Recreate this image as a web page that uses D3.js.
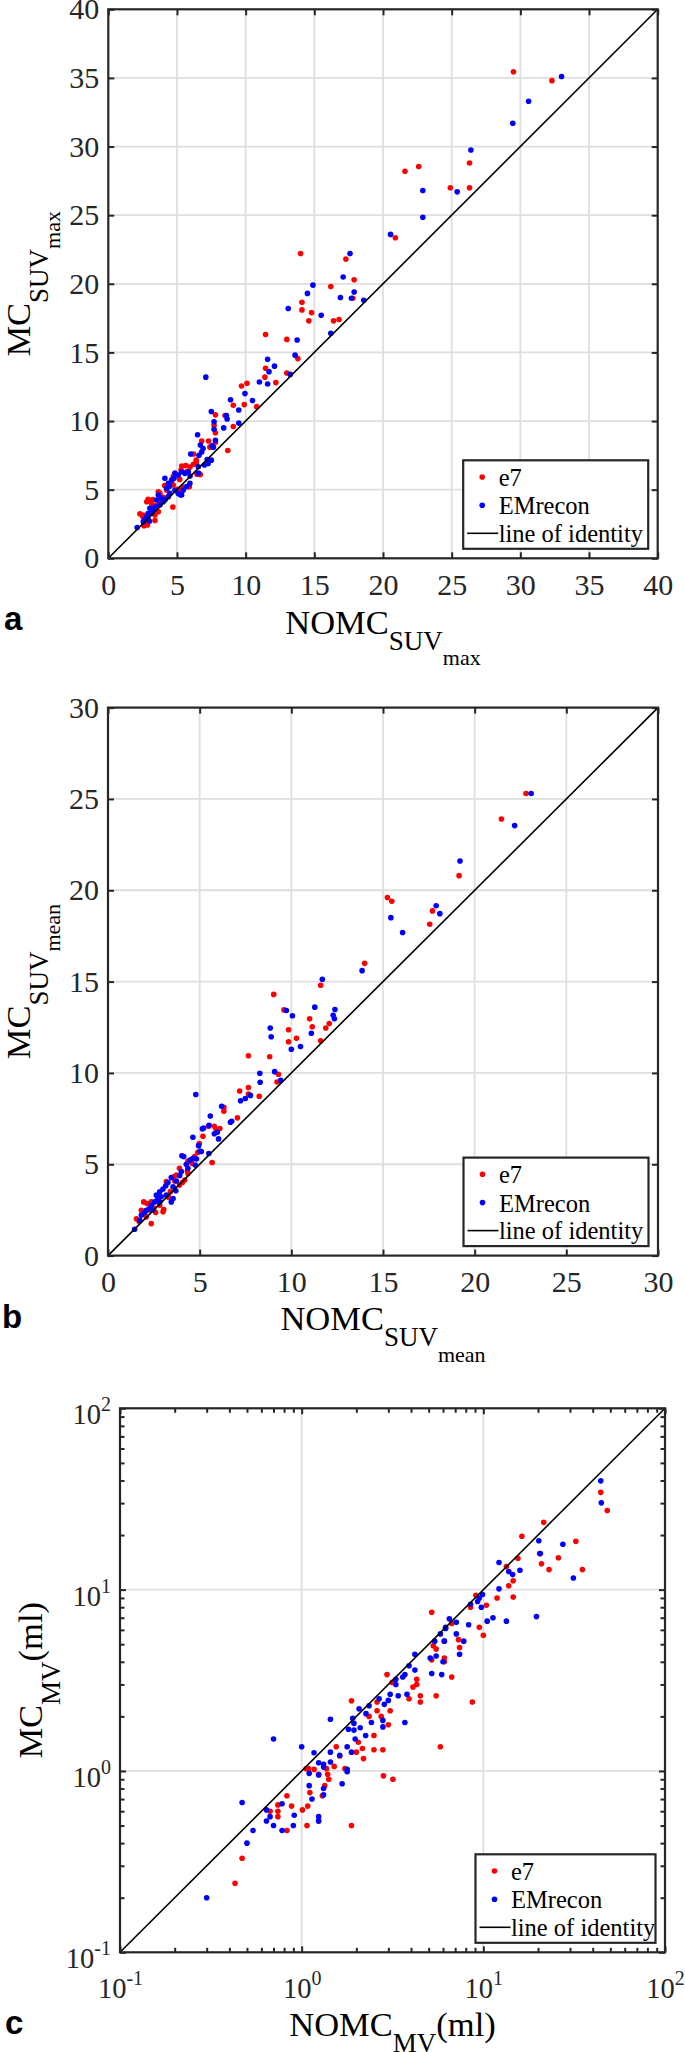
<!DOCTYPE html>
<html>
<head>
<meta charset="utf-8">
<script src="https://cdn.jsdelivr.net/npm/d3@7"></script>
<style>
  body { margin: 0; background: #fff; }
</style>
</head>
<body>
<div id="chart"></div>
<script>
// ---- data: [NOMC, MC] pairs ----
const suvMaxE7 = [
  [29.5,35.45],[32.3,34.8],[21.6,28.2],[22.6,28.55],[26.3,28.8],[24.9,27.0],[26.3,27.0],[20.9,23.35],
  [14.0,22.2],[17.3,21.8],[16.2,19.8],[17.9,20.3],[17.8,18.95],[14.1,18.65],[14.1,18.1],[14.8,17.9],
  [14.6,17.3],[16.4,17.3],[16.8,17.4],[11.45,16.3],[13.0,15.95],[13.8,14.55],[11.45,13.85],[11.4,13.2],
  [13.0,13.5],[12.2,12.8],[9.7,12.55],[10.1,12.75],[9.1,11.15],[9.9,11.2],[10.8,11.05],[8.5,10.4],
  [7.8,10.45],[9.1,9.6],[7.7,9.7],[7.8,9.15],[7.3,8.55],[7.8,8.45],[6.8,8.55],[8.7,7.85],[6.7,6.1],
  [6.4,6.95],[7.4,8.1],[6.2,7.6],[6.4,7.15],
  [5.35,6.72],[5.65,6.75],[5.95,6.65],[6.2,6.85],[5.3,6.43],[5.7,6.3],[6.45,6.12],[6.6,6.2],[4.85,6.19],
  [4.73,5.95],[5.2,5.75],[5.4,5.2],[4.6,5.58],[4.73,5.34],[5.9,5.22],[5.3,4.97],[5.1,5.05],[4.1,5.3],
  [4.25,4.97],[3.64,4.85],[3.76,4.73],[4.0,4.45],[3.76,4.25],[2.9,4.3],[3.1,4.12],[3.25,4.28],[2.8,4.12],
  [3.16,3.96],[3.52,3.88],[3.71,4.0],[4.7,3.73],[2.3,3.25],[2.5,3.05],[2.55,3.16],[3.4,3.15],[3.64,3.4],
  [3.4,2.75],[2.7,2.55],[2.85,2.43],[2.6,2.38],[2.8,2.5]
];
const suvMaxEMrecon = [
  [33.0,35.1],[30.6,33.3],[29.45,31.7],[26.4,29.75],[22.9,26.8],[22.9,24.85],[25.4,26.7],[20.55,23.6],
  [17.6,22.2],[17.1,20.5],[14.9,19.9],[14.5,19.3],[17.9,19.4],[16.9,19.0],[18.6,18.8],[17.7,18.95],
  [13.1,18.2],[15.5,17.7],[16.2,16.4],[13.75,15.9],[13.6,14.8],[11.6,14.5],[12.1,14.0],[11.7,13.6],
  [11.6,12.7],[13.25,13.4],[11.0,12.85],[7.1,13.2],[9.95,12.0],[10.5,11.5],[8.9,11.55],[9.5,10.8],
  [7.5,10.7],[8.6,10.4],[8.65,10.15],[9.5,9.85],[7.7,9.95],[8.4,9.5],[7.7,9.4],[6.5,9.0],[7.8,8.6],
  [7.65,8.1],[6.9,8.0],[6.8,7.75],[6.6,7.5],[7.5,7.15],[6.0,7.6],[7.2,7.2],[6.7,8.25],[7.55,8.2],
  [7.27,6.91],[7.0,6.8],[6.55,6.67],[6.55,6.19],[5.82,6.31],[5.58,6.19],[5.34,6.31],[5.09,6.07],
  [4.85,6.19],[5.94,5.46],[5.7,5.22],[5.34,4.61],[4.78,5.83],[4.61,5.7],[4.37,5.46],[4.12,5.83],
  [4.25,5.1],[4.85,4.97],[5.09,4.73],[4.49,4.73],[4.37,4.49],[4.12,4.25],[3.88,4.37],[4.0,4.12],
  [3.76,3.88],[3.52,4.25],[3.64,4.61],[3.4,3.76],[3.28,3.52],[3.15,3.28],[3.03,3.64],[2.91,3.28],
  [2.79,3.03],[2.67,2.84],[2.55,2.67],[2.1,2.24],[2.9,2.85],[5.26,4.61],[5.46,4.97],[4.45,5.25],
  [5.95,6.0],[3.0,2.7]
];
const suvMeanE7 = [
  [22.8,25.3],[21.46,23.9],[19.15,20.8],[15.24,19.6],[15.48,19.4],[17.7,18.87],[17.55,18.14],[14.0,16.0],
  [11.6,14.8],[9.04,14.3],[9.6,13.45],[11.0,12.96],[9.85,12.36],[11.14,12.53],[12.07,12.7],[11.88,12.46],
  [10.28,11.9],[9.85,11.71],[11.6,11.76],[7.66,10.94],[8.82,10.89],[9.3,9.93],[9.22,9.5],[7.18,9.01],
  [7.66,9.2],[7.66,8.84],[8.25,8.72],[6.32,8.12],[6.32,7.9],[7.06,7.54],[5.49,7.08],[5.8,7.08],[6.1,6.96],
  [5.18,6.53],[4.98,6.14],[5.68,5.1],[5.9,6.9],
  [4.9,5.66],[4.73,5.42],[4.36,5.18],[4.58,5.05],[4.33,4.63],[4.36,4.5],[3.9,4.78],[3.73,4.41],[3.58,4.32],
  [3.64,4.08],[4.18,4.14],[4.05,4.0],[3.18,4.05],[3.9,3.86],[1.95,2.94],[2.13,2.85],[2.36,2.94],[2.82,2.76],
  [3.0,2.4],[1.82,2.48],[1.87,2.3],[2.09,2.12],[2.6,2.36],[1.55,2.02],[1.69,1.88],[3.04,2.52],[2.36,1.75],
  [3.4,3.5],[2.7,3.1],[2.5,2.6],[3.3,3.2],[2.2,2.5]
];
const suvMeanEMrecon = [
  [23.08,25.3],[22.18,23.54],[19.2,21.6],[17.9,19.15],[18.1,18.72],[15.43,18.5],[16.07,17.69],[13.86,15.6],
  [11.69,15.13],[11.28,13.6],[12.38,13.47],[12.28,13.16],[12.35,12.96],[9.73,13.42],[10.06,13.13],
  [8.85,12.46],[8.9,11.98],[11.09,12.17],[10.0,11.3],[10.5,11.45],[9.09,10.07],[9.42,9.59],[8.28,9.98],
  [8.3,9.49],[4.79,8.82],[7.77,8.77],[7.49,8.6],[7.23,8.48],[6.2,8.17],[5.58,7.64],[6.68,7.3],[5.15,6.94],
  [5.8,6.67],[6.03,6.39],[5.96,6.75],[4.63,6.48],[4.94,6.02],[5.03,5.71],[5.5,5.59],[4.03,5.47],
  [6.75,7.35],[5.22,6.98],[5.51,7.13],
  [5.09,5.7],[4.13,5.42],[4.27,5.0],[4.49,5.24],[4.64,5.33],[4.82,5.29],[4.76,4.96],[4.36,4.78],[4.0,4.6],
  [3.91,4.38],[3.45,4.27],[3.73,4.08],[3.27,4.0],[3.15,3.82],[3.0,3.64],[3.55,3.77],[2.82,3.49],[2.64,3.31],
  [2.9,3.22],[2.73,3.03],[2.55,2.94],[3.18,3.31],[2.36,2.76],[2.27,2.58],[2.09,2.48],[2.82,2.94],[2.0,2.36],
  [1.82,2.21],[1.73,1.93],[1.45,1.44],[3.55,3.13],[3.45,2.94],[3.7,3.55],[2.45,2.5]
];
const mvE7 = [
  [44.3,34.4],[48.1,27.3],[21.5,23.5],[16.3,19.7],[32.3,18.5],[20.4,15.8],[20.9,13.9],[23.0,12.9],
  [25.9,15.0],[35.1,12.9],[15.5,14.9],[13.4,13.4],[14.6,11.2],[13.8,10.5],[14.6,9.1],[11.9,9.0],[9.1,9.3],
  [10.4,8.2],[8.5,8.0],[5.2,7.5],[9.5,6.2],[10.0,5.6],[6.7,6.5],[7.3,5.3],[7.4,4.8],[6.1,5.2],[5.3,4.9],
  [5.5,4.7],[6.1,4.2],[6.1,4.0],[6.7,3.3],[5.2,4.1],[4.3,3.2],[4.3,3.0],[4.1,2.9],[4.5,2.6],[4.5,2.4],
  [3.9,2.5],[5.5,2.6],[8.7,2.4],[5.8,1.36],[2.95,3.4],[3.15,3.08],[3.07,2.15],[3.0,1.8],[2.6,2.4],
  [2.6,2.15],[2.74,2.0],[2.35,2.0],[2.5,1.57],[2.16,1.33],[2.5,1.31],[2.8,1.31],[2.05,1.44],[2.0,1.27],
  [2.19,1.17],[1.88,2.44],[2.82,0.94],[3.18,0.9],[1.55,1.36],[1.62,1.21],[1.73,1.03],[1.51,1.06],
  [1.37,1.03],[1.17,1.02],[1.09,1.03],[1.24,0.96],[1.39,0.96],[1.41,0.9],[1.34,0.83],[1.3,0.73],
  [1.11,0.76],[1.06,1.03],[1.24,0.53],[1.08,0.64],[1.07,0.5],[1.01,0.61],[1.88,0.5],[0.83,0.73],
  [0.88,0.64],[0.83,0.47],[0.74,0.65],[0.74,0.6],[0.74,0.56],[0.67,0.6],[0.47,0.33],[0.43,0.24]
];
const mvEMrecon = [
  [44.3,39.8],[44.6,30.1],[20.2,18.6],[27.4,17.8],[20.6,15.8],[31.3,11.6],[19.6,7.1],[15.9,12.8],
  [12.2,14.1],[13.8,12.6],[14.5,12.1],[12.2,10.1],[13.4,6.7],[11.3,7.0],[10.5,6.7],[9.9,9.4],[9.5,9.0],
  [9.3,8.6],[9.75,8.0],[8.5,8.3],[8.3,6.4],[7.8,5.2],[7.4,4.4],[7.1,5.7],[6.5,6.9],[7.1,6.6],[6.2,6.2],
  [6.2,6.1],[5.8,5.7],[6.1,5.2],[5.4,5.2],[5.5,4.3],[6.0,4.0],[5.1,4.2],[5.2,3.45],[5.9,3.4],[4.2,4.4],
  [4.2,3.6],[3.9,3.8],[3.7,3.4],[3.6,3.3],[3.3,3.2],[3.3,3.0],[3.4,2.6],[3.8,2.65],[3.7,1.85],[3.07,2.65],
  [3.0,2.45],[2.67,2.5],[2.85,2.33],[2.8,1.9],[2.8,1.75],[2.35,2.29],[2.07,2.2],[2.26,2.07],[2.42,1.85],
  [2.1,1.73],[1.91,1.95],[1.94,1.83],[1.94,1.68],[1.81,1.7],[1.97,1.5],[2.25,1.57],[1.78,1.36],[1.88,1.27],
  [1.67,0.85],[1.78,1.02],[1.78,0.99],[1.44,1.93],[1.62,1.22],[1.44,1.27],[1.44,1.12],[1.32,1.09],
  [1.32,1.05],[1.24,1.11],[1.24,0.95],[1.17,1.26],[1.1,0.97],[1.1,0.83],[1.14,0.7],[1.32,0.8],[1.32,0.74],
  [1.24,0.56],[1.24,0.53],[1.0,1.36],[0.7,1.5],[0.91,0.57],[0.9,0.5],[0.78,0.66],[0.78,0.47],[0.7,0.5],
  [0.64,0.61],[0.64,0.53],[0.67,0.56],[0.47,0.67],[0.54,0.47],[0.5,0.4],[0.3,0.2]
];

// ---- ticks and labels ----
const ticksMax = [0, 5, 10, 15, 20, 25, 30, 35, 40];
const ticksMean = [0, 5, 10, 15, 20, 25, 30];
const ticksLogMajor = [0.1, 1, 10, 100];
const ticksLogMinor = [0.2, 0.3, 0.4, 0.5, 0.6, 0.7, 0.8, 0.9, 2, 3, 4, 5, 6, 7, 8, 9,
  20, 30, 40, 50, 60, 70, 80, 90];
const legendLabels = ["e7", "EMrecon", "line of identity"];
const seriesColors = ["#ff0000", "#0000ff"];

const serif = "'Liberation Serif', 'Times New Roman', Times, serif";
const sans = "'Liberation Sans', Arial, sans-serif";
const axisColor = "#262626";

const svg = d3.select("#chart").append("svg")
  .attr("width", 685)
  .attr("height", 2052)
  .attr("font-family", serif);

function drawPanel(cfg) {
  const g = svg.append("g").attr("transform", `translate(${cfg.left},${cfg.top})`);
  const w = cfg.width, h = cfg.height;
  const tickFont = cfg.log ? 28.5 : 30;

  const x = (cfg.log ? d3.scaleLog() : d3.scaleLinear()).domain(cfg.domain).range([0, w]);
  const y = (cfg.log ? d3.scaleLog() : d3.scaleLinear()).domain(cfg.domain).range([h, 0]);

  // grid
  const grid = g.append("g").attr("stroke", "#dedede").attr("stroke-width", 1.8);
  grid.selectAll(".gx").data(cfg.ticks.slice(1, -1)).join("line")
    .attr("class", "gx")
    .attr("x1", d => x(d)).attr("x2", d => x(d)).attr("y1", 0).attr("y2", h);
  grid.selectAll(".gy").data(cfg.ticks.slice(1, -1)).join("line")
    .attr("class", "gy")
    .attr("y1", d => y(d)).attr("y2", d => y(d)).attr("x1", 0).attr("x2", w);

  // points, e7 first, EMrecon on top
  [cfg.e7, cfg.em].forEach((pts, i) => {
    g.append("g").selectAll("circle").data(pts).join("circle")
      .attr("cx", d => x(d[0]))
      .attr("cy", d => y(d[1]))
      .attr("r", 2.8)
      .attr("fill", seriesColors[i]);
  });

  // line of identity
  g.append("line")
    .attr("x1", x(cfg.domain[0])).attr("y1", y(cfg.domain[0]))
    .attr("x2", x(cfg.domain[1])).attr("y2", y(cfg.domain[1]))
    .attr("stroke", "#000").attr("stroke-width", 1.6);

  // axes with inward ticks on all four sides
  const fmt = cfg.log ? (d => d) : d3.format("d");
  const bottom = g.append("g").attr("transform", `translate(0,${h})`)
    .call(d3.axisBottom(x).tickValues(cfg.ticks).tickSize(-6).tickSizeOuter(0)
      .tickPadding(cfg.log ? 25 : 15.5).tickFormat(fmt));
  const left = g.append("g")
    .call(d3.axisLeft(y).tickValues(cfg.ticks).tickSize(-6).tickSizeOuter(0)
      .tickPadding(9).tickFormat(fmt));
  const top = g.append("g")
    .call(d3.axisTop(x).tickValues(cfg.ticks).tickSize(-6).tickSizeOuter(0).tickFormat(""));
  const right = g.append("g").attr("transform", `translate(${w},0)`)
    .call(d3.axisRight(y).tickValues(cfg.ticks).tickSize(-6).tickSizeOuter(0).tickFormat(""));
  const axes = [bottom, left, top, right];

  if (cfg.log) {
    // minor ticks
    axes.push(
      g.append("g").attr("transform", `translate(0,${h})`)
        .call(d3.axisBottom(x).tickValues(ticksLogMinor).tickSize(-4.5).tickSizeOuter(0).tickFormat("")),
      g.append("g")
        .call(d3.axisLeft(y).tickValues(ticksLogMinor).tickSize(-4.5).tickSizeOuter(0).tickFormat("")),
      g.append("g")
        .call(d3.axisTop(x).tickValues(ticksLogMinor).tickSize(-4.5).tickSizeOuter(0).tickFormat("")),
      g.append("g").attr("transform", `translate(${w},0)`)
        .call(d3.axisRight(y).tickValues(ticksLogMinor).tickSize(-4.5).tickSizeOuter(0).tickFormat(""))
    );
  }

  axes.forEach(a => {
    a.select(".domain").remove();
    a.selectAll(".tick line").attr("stroke", axisColor).attr("stroke-width", 2);
    a.attr("font-family", serif).attr("font-size", tickFont);
    a.selectAll("text").attr("fill", axisColor).attr("font-family", serif);
  });

  if (cfg.log) {
    // 10^n labels
    [bottom, left].forEach((a, k) => {
      a.selectAll("text").each(function (d) {
        const t = d3.select(this).text(null);
        if (k === 1) t.attr("dy", "0.55em");
        t.append("tspan").text("10");
        t.append("tspan").attr("dy", -13).attr("font-size", 20)
          .text(String(Math.round(Math.log10(d))));
      });
    });
  }

  // frame
  g.append("rect").attr("width", w).attr("height", h)
    .attr("fill", "none").attr("stroke", axisColor).attr("stroke-width", 2.2);

  // x label
  const xl = g.append("text")
    .attr("x", w / 2).attr("y", h + cfg.xLabelOffset)
    .attr("text-anchor", "middle").attr("fill", "#000");
  addLabel(xl, "NOMC", cfg.sub, cfg.subsub, cfg.tail, 16, 15.5);

  // y label
  const yl = g.append("text")
    .attr("transform", `translate(-78,${h / 2}) rotate(-90)`)
    .attr("text-anchor", "middle").attr("fill", "#000");
  addLabel(yl, "MC", cfg.sub, cfg.subsub, cfg.tail, 17.5, 12.5);

  // panel letter
  svg.append("text")
    .attr("x", cfg.letterX).attr("y", cfg.top + h + cfg.letterOffset)
    .attr("font-family", sans)
    .attr("font-weight", "bold").attr("font-size", 33).attr("fill", "#000")
    .text(cfg.letter);

  // legend
  const lw = cfg.legendWidth, lh = 88.5;
  const lg = g.append("g").attr("transform", `translate(${w - 9.5 - lw},${h - 9.5 - lh})`);
  lg.append("rect").attr("width", lw).attr("height", lh)
    .attr("fill", "#fff").attr("stroke", axisColor).attr("stroke-width", 2.2);
  const rowBase = [25.7, 54, 81.5];
  legendLabels.forEach((lab, i) => {
    if (i < 2) {
      lg.append("circle").attr("cx", 19).attr("cy", rowBase[i] - 9).attr("r", 2.8)
        .attr("fill", seriesColors[i]);
    } else {
      lg.append("line").attr("x1", 4).attr("x2", 35).attr("y1", rowBase[i] - 8.5).attr("y2", rowBase[i] - 8.5)
        .attr("stroke", "#000").attr("stroke-width", 1.6);
    }
    lg.append("text").attr("x", 35.5).attr("y", rowBase[i])
      .attr("font-family", serif)
      .attr("font-size", 24.5).attr("fill", "#000").text(lab);
  });
}

function addLabel(t, main, sub, subsub, tail, d1, d2) {
  t.attr("font-family", serif).attr("font-size", 34.5);
  t.append("tspan").text(main);
  t.append("tspan").attr("dy", d1).attr("font-size", 27).text(sub);
  if (subsub) t.append("tspan").attr("dy", d2).attr("font-size", 22).text(subsub);
  if (tail) t.append("tspan").attr("dy", -d1).attr("font-size", 34.5).text(tail);
}

drawPanel({
  left: 108.3, top: 9.3, width: 549.4, height: 549, domain: [0, 40], ticks: ticksMax,
  e7: suvMaxE7, em: suvMaxEMrecon, sub: "SUV", subsub: "max",
  xLabelOffset: 75.7, letter: "a", letterX: 4, letterOffset: 72, legendWidth: 185
});
drawPanel({
  left: 108, top: 707.6, width: 550, height: 548, domain: [0, 30], ticks: ticksMean,
  e7: suvMeanE7, em: suvMeanEMrecon, sub: "SUV", subsub: "mean",
  xLabelOffset: 74.5, letter: "b", letterX: 2, letterOffset: 72.5, legendWidth: 185
});
drawPanel({
  left: 120, top: 1408.3, width: 545, height: 544, domain: [0.1, 100], ticks: ticksLogMajor,
  log: true, e7: mvE7, em: mvEMrecon, sub: "MV", tail: "(ml)",
  xLabelOffset: 83.5, letter: "c", letterX: 5, letterOffset: 82, legendWidth: 180
});
</script>
</body>
</html>
